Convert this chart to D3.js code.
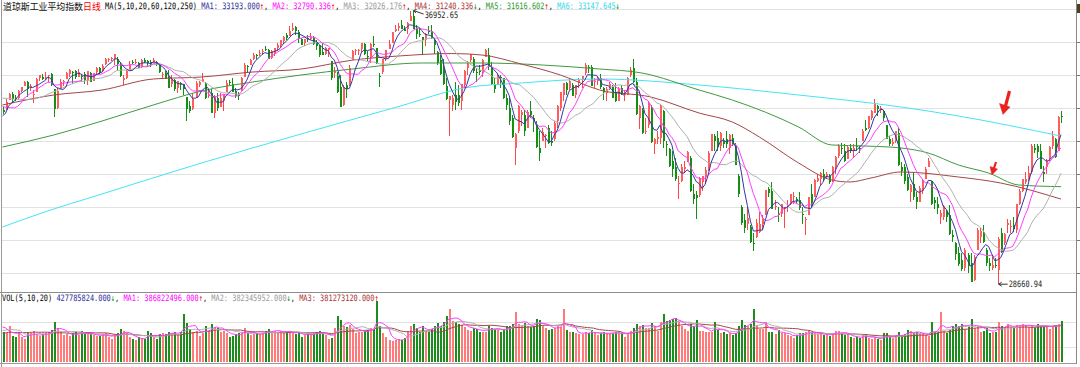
<!DOCTYPE html>
<html lang="zh">
<head>
<meta charset="UTF-8">
<title>道琼斯工业平均指数 日线</title>
<script src="https://d3js.org/d3.v7.min.js"></script>
<style>
    body { margin: 0; background: #fff; }
    svg { display: block; }
</style>
</head>
<body>
<script>
// daily candles 2021-06-23 .. 2022-11-11, [open, high, low, close]
var ohlc = [
[33946,34017,33806,33874],[33950,34282,33950,34196],[34232,34467,34232,34433],[34429,34471,34193,34283],[34293,34390,34227,34292],
[34302,34534,34265,34503],[34507,34640,34480,34633],[34670,34821,34660,34786],[34798,34808,34320,34577],[34595,34725,34520,34681],
[34415,34532,34145,34421],[34500,34906,34490,34870],[34895,35000,34811,34996],[34939,35029,34862,34889],[34933,35091,34853,34933],
[34959,35015,34802,34987],[35037,35060,34668,34687],[34570,34570,33741,33962],[34005,34613,33966,34512],[34564,34866,34564,34798],
[34819,34853,34673,34823],[34870,35097,34870,35062],[35043,35171,34935,35144],[35105,35115,34740,35058],[35111,35148,34870,34931],
[34940,35171,34940,35085],[34971,35023,34792,34935],[35016,35076,34741,34838],[34857,35135,34705,35117],[35073,35104,34779,34793],
[34824,35072,34812,35064],[35080,35236,35030,35209],[35208,35244,35030,35102],[35136,35335,35120,35265],[35320,35528,35300,35485],
[35467,35522,35384,35500],[35513,35540,35436,35516],[35483,35631,35300,35625],[35500,35550,35140,35343],[35310,35400,34950,34961],
[34850,35010,34690,34894],[34900,35150,34880,35120],[35160,35430,35150,35336],[35380,35450,35330,35366],[35390,35470,35320,35406],
[35350,35380,35210,35214],[35230,35490,35200,35456],[35460,35520,35370,35400],[35420,35450,35250,35361],[35400,35460,35250,35313],
[35380,35530,35370,35444],[35400,35420,35270,35369],[35330,35340,35060,35100],[35030,35080,34880,35031],[35050,35120,34870,34879],
[34950,35140,34600,34608],[34720,34990,34630,34870],[34860,34880,34530,34578],[34600,34830,34460,34814],[34760,34800,34550,34751],
[34720,34720,34380,34584],[34320,34340,33610,33970],[34050,34220,33850,33919],[33960,34440,33930,34258],[34300,34830,34300,34765],
[34690,34830,34640,34798],[34800,35060,34800,34870],[34750,34780,34280,34300],[34390,34570,34300,34390],[34460,34590,33840,33844],
[33850,34380,33700,34326],[34300,34460,33900,34002],[34030,34460,34030,34314],[34200,34420,33900,34417],[34500,34850,34500,34755],
[34790,34850,34690,34746],[34740,34900,34490,34496],[34510,34600,34310,34378],[34380,34480,34230,34377],[34530,34950,34530,34912],
[34940,35350,34940,35295],[35260,35300,35050,35259],[35300,35490,35290,35458],[35500,35670,35450,35610],[35610,35650,35480,35603],
[35640,35760,35580,35677],[35700,35790,35620,35741],[35780,35890,35740,35757],[35760,35780,35490,35491],[35520,35760,35500,35731],
[35660,35830,35590,35820],[35830,35960,35740,35913],[35900,36070,35850,36053],[36030,36170,35950,36158],[36200,36270,36050,36124],
[36190,36470,36190,36328],[36370,36570,36330,36432],[36450,36470,36200,36320],[36300,36350,35960,36080],[36080,36110,35910,35921],
[35960,36100,35890,36100],[36130,36220,35990,36087],[36090,36260,36070,36142],[36120,36180,35920,35931],[35980,36050,35760,35871],
[35900,35910,35560,35602],[35700,35960,35600,35619],[35630,35850,35600,35814],[35770,35830,35560,35804],[35420,35430,34850,34899],
[35060,35240,34900,35136],[34980,35080,34440,34484],[34650,35010,34020,34022],[34100,34690,34050,34640],[34700,34800,34300,34580],
[34700,35310,34680,35227],[35450,35760,35450,35719],[35720,35800,35600,35755],[35730,35800,35600,35754],[35800,35980,35680,35971],
[35950,35960,35600,35650],[35580,35720,35410,35545],[35550,35960,35350,35928],[35950,36180,35850,35898],[35820,35830,35320,35365],
[34980,35070,34640,34932],[35080,35500,35040,35493],[35470,35770,35420,35754],[35800,36050,35780,35951],[35980,36310,35980,36302],
[36330,36530,36300,36398],[36410,36570,36340,36489],[36510,36680,36390,36398],[36400,36480,36330,36338],[36400,36610,36250,36585],
[36640,36935,36640,36800],[36780,36952.65,36400,36408],[36380,36510,36100,36236],[36240,36420,36150,36232],[36150,36160,35640,36069],
[36050,36270,35890,36252],[36330,36470,36230,36290],[36320,36510,36100,36114],[36050,36100,35650,35912],[35700,35740,35310,35369],
[35450,35600,35000,35029],[35170,35500,34690,34715],[34680,34900,34250,34265],[34250,34370,33150,34365],[34100,34400,33900,34298],
[34400,34800,33950,34168],[34400,34700,34050,34160],[34200,34740,33950,34725],[34700,35150,34600,35132],[35200,35410,35000,35405],
[35450,35650,35400,35629],[35480,35550,35050,35111],[35100,35200,34800,35089],[35150,35300,35000,35091],[35080,35500,34950,35463],
[35550,35800,35550,35768],[35600,35830,35150,35241],[35200,35400,34700,34738],[34700,34900,34440,34566],[34700,35020,34700,34988],
[34940,35000,34600,34934],[34900,34900,34280,34312],[34300,34430,33950,34079],[34000,34300,33500,33597],[33700,33800,33100,33131],
[32800,33250,32272,33224],[33300,34090,33250,34059],[33800,33950,33450,33893],[33800,33950,33150,33294],[33400,33950,33380,33891],
[33900,34200,33700,33795],[33700,33800,33270,33615],[33500,33600,32800,32818],[32800,33300,32400,32633],[33000,33400,33000,33286],
[33150,33200,32800,33174],[33400,33500,32900,32944],[33000,33300,32850,32945],[33050,33600,33000,33545],[33600,34100,33400,34063],
[34000,34500,33900,34481],[34400,34760,34200,34755],[34750,34800,34400,34553],[34600,34900,34550,34808],[34700,34750,34350,34358],
[34400,34710,34300,34708],[34750,34900,34600,34861],[34850,34970,34600,34956],[35050,35370,35000,35295],[35250,35300,35050,35229],
[35250,35300,34670,34678],[34800,34900,34600,34818],[34820,34950,34700,34921],[34900,35020,34580,34641],[34600,34650,34250,34497],
[34450,34650,34200,34583],[34570,34800,34550,34721],[34650,34700,34300,34308],[34500,34750,34170,34220],[34200,34650,34200,34565],
[34600,34700,34400,34451],[34400,34550,34200,34412],[34400,34950,34400,34911],[35000,35250,34950,35161],[35200,35492,34750,34793],
[34800,34900,33800,33811],[33700,34100,33350,34049],[33950,34000,33200,33240],[33300,33700,33200,33302],[33500,34200,33400,34160],
[34000,34100,32950,32977],[32900,33100,32600,33061],[33050,33300,32900,33128],[33100,34120,32900,34061],[33900,33950,32800,32998],
[32900,33000,32550,32899],[32750,32800,32200,32246],[32400,32700,31900,32161],[32200,32500,31800,31834],[31700,31950,31230,31730],
[31800,32300,31750,32197],[32150,32400,32050,32223],[32400,32700,32350,32655],[32500,32550,31450,31490],[31400,31700,31100,31253],
[31350,31500,30635,31262],[31350,31900,31300,31880],[31750,31950,31500,31928],[31900,32200,31700,32120],[32150,32700,32100,32637],
[32700,33220,32700,33213],[33150,33200,32700,32990],[33100,33300,32700,32813],[32850,33260,32700,33248],[33000,33100,32800,32899],
[33050,33300,32800,32916],[32800,33200,32600,33180],[33100,33200,32850,32910],[32850,32950,32270,32273],[31950,32000,31300,31393],
[31000,31050,30450,30517],[30600,30800,30200,30365],[30500,31000,30300,30668],[30400,30450,29900,29927],[29900,30200,29653,29888],
[30100,30650,30050,30530],[30250,30850,30200,30484],[30500,30750,30300,30677],[30750,31510,30750,31501],[31550,31600,31300,31438],
[31500,31750,30950,30947],[31000,31200,30900,31029],[30800,31000,30550,30775],[30800,31100,30700,31097],[30950,31000,30350,30968],
[31000,31200,30850,31037],[31100,31400,31050,31385],[31300,31450,31100,31339],[31250,31300,31100,31174],[31200,31450,30900,30982],
[30800,31000,30500,30773],[30600,30700,30150,30630],[30750,31300,30750,31289],[31400,31700,31000,31073],[31300,31850,31300,31828],
[31800,32000,31750,31875],[31850,32050,31650,32036],[32000,32150,31800,31900],[31900,32050,31850,31991],[31950,32000,31700,31762],
[31800,32250,31750,32198],[32200,32550,32000,32530],[32550,32900,32500,32845],[32800,32950,32600,32798],[32700,32900,32350,32397],
[32450,32850,32450,32813],[32800,32900,32650,32727],[32700,32900,32500,32803],[32850,33100,32700,32833],[32800,32850,32650,32775],
[33000,33350,33000,33310],[33400,33650,33300,33337],[33400,33770,33350,33761],[33700,33950,33650,33913],[33850,34280,33850,34152],
[34050,34100,33750,33981],[33950,34050,33850,33999],[33900,33950,33600,33707],[33500,33500,33050,33064],[33050,33150,32850,32910],
[32900,33100,32850,32970],[33000,33300,32950,33292],[33250,33400,32250,32283],[32200,32350,31950,32099],[32200,32300,31700,31791],
[31900,32000,31500,31510],[31450,31700,31150,31656],[31700,32050,31200,31318],[31300,31450,30950,31146],[31150,31650,31150,31581],
[31500,31850,31400,31775],[31850,32200,31850,32152],[32200,32500,32200,32381],[31800,31800,31050,31105],[31200,31300,30950,31135],
[31100,31300,30800,30962],[30700,30900,30500,30822],[30700,31050,30600,31020],[30850,30900,30550,30706],[30750,31050,30150,30184],
[30150,30300,29950,30077],[29900,29950,29400,29590],[29600,29800,29200,29261],[29400,29600,29050,29135],[29150,29750,29050,29684],
[29550,29600,29000,29226],[29300,29600,28715,28726],[28800,29550,28750,29491],[29700,30350,29700,30317],[30100,30350,29900,30274],
[30250,30450,29900,29927],[29700,29750,29200,29297],[29300,29450,29050,29203],[29150,29500,29100,29240],[29250,29450,29150,29211],
[29100,30100,28660.94,30039],[30200,30350,29600,29635],[29900,30200,29850,30186],[30450,30650,30200,30524],[30400,30600,30200,30424],
[30450,30700,30250,30334],[30300,31100,30200,31083],[31100,31550,31050,31500],[31500,31850,31450,31837],[31750,32050,31700,31839],
[31850,32250,31800,32034],[32050,32900,32000,32862],[32800,32900,32650,32733],[32850,32900,32500,32653],[32700,32900,32150,32148],
[32050,32250,31750,32001],[32200,32450,32000,32403],[32450,32850,32400,32827],[32850,33300,32750,33160],[33050,33100,32500,32514],
[32700,33750,32700,33716],[33750,33900,33550,33748]
];

// volume, millions of shares
var volume = [
310,300,380,270,260,300,260,240,300,300, 330,280,270,290,300,320,340,420,360,320,
280,290,270,300,310,280,330,290,300,290, 280,270,270,290,300,260,240,280,300,350,
330,300,260,240,230,260,250,240,330,300, 260,240,290,300,290,320,300,310,290,320,
500,410,350,320,330,270,300,380,330,400, 370,360,320,330,300,260,270,290,300,320,
360,300,280,290,300,290,300,330,350,310, 330,320,330,300,310,330,300,290,320,260,
280,300,290,300,310,330,300,280,240,250, 360,480,440,380,370,390,350,300,310,320,
330,340,360,350,640,380,300,260,230,220, 230,240,230,250,330,380,400,360,310,380,
330,320,350,380,410,380,420,480,560,430, 420,400,390,370,340,330,360,350,310,320,
320,380,360,350,340,310,340,380,380,400, 520,400,380,410,380,370,380,450,440,380,
360,340,350,360,380,370,560,340,310,320, 300,290,290,320,300,340,300,280,300,310,
300,290,300,320,310,300,260,300,330,360, 400,380,390,360,360,410,380,330,420,500,
430,440,450,460,430,380,350,330,400,380, 440,330,330,310,320,320,420,340,300,320,
290,300,280,300,380,440,390,380,400,560, 390,350,350,420,320,320,290,340,300,300,
280,270,250,280,300,300,310,330,300,300, 290,300,280,290,270,300,330,330,300,280,
290,260,250,260,250,280,290,250,240,260, 240,230,300,300,260,250,270,320,280,290,
340,330,300,310,290,290,280,270,420,320, 320,520,330,300,340,380,400,380,400,350,
370,450,360,370,320,330,360,300,320,310, 420,380,370,395,365,360,388,392,402,380,
365,385,360,395,380,372,382,350,372,384, 400,427.785824
];

// closes / volumes of the 19 sessions before the first candle (feed the short MAs)
var priorClose = [34323,34464,34529,34575,34600,34577,34756,34630,34600,34447,34466,34480,34394,34299,34033,33823,33290,33876,33945];
var priorVolume = [280,270,250,300,290,280,270,260,290,280,270,290,280,300,330,350,520,360,300];

// long averages, [candle index, value]
var ma60Pts = [[0,34091],[17,34394],[33,34545],[50,34879],[66,34939],[83,35091],[99,35180],[116,35450],[132,35580],
    [149,35650],[159,35606],[172,35333],[185,35000],[198,34545],[215,34333],[231,33848],[242,33576],[251,33121],
    [264,32333],[275,31818],[281,31758],[288,31879],[298,32061],[317,31909],[331,31727],[351,31240]];
var ma120Pts = [[0,32818],[17,33182],[33,33606],[50,34091],[66,34515],[83,34788],[99,35000],[116,35182],[139,35364],
    [159,35364],[179,35303],[198,35182],[212,35061],[231,34545],[242,34242],[264,33424],[275,32879],[286,32848],
    [298,32788],[307,32636],[317,32273],[327,32030],[337,31667],[351,31616]];
var ma250Pts = [[0,30394],[13,30818],[33,31394],[66,32333],[99,33212],[132,34061],[153,34606],[172,34758],
    [198,34879],[231,34697],[264,34394],[298,34030],[317,33758],[351,33148]];

var priceTicks = [29000, 30000, 31000, 32000, 33000, 34000, 35000, 36000, 37000];
var volTicks = [322.5, 347.5];

var RED = "#ff4646", GREEN = "#138f13";

var titleSegs = [["道琼斯工业平均指数", "#111"], ["日线", "#f00"]];
var topLegend = [
    ["MA(5,10,20,60,120,250) ", "#000"],
    ["MA1: 33193.000", "#2b2b9c"], ["\u2191", "#f00"], [", ", "#000"],
    ["MA2: 32790.336", "#f0f"], ["\u2191", "#f00"], [", ", "#000"],
    ["MA3: 32026.176", "#999"], ["\u2191", "#f00"], [", ", "#000"],
    ["MA4: 31240.336", "#a33"], ["\u2193", "#080"], [", ", "#000"],
    ["MA5: 31616.602", "#2a9a2a"], ["\u2191", "#f00"], [", ", "#000"],
    ["MA6: 33147.645", "#2ed8ec"], ["\u2193", "#080"]
];
var volLegend = [
    ["VOL(5,10,20) ", "#000"],
    ["427785824.000", "#2b2b9c"], ["\u2193", "#080"], [", ", "#000"],
    ["MA1: 386822496.000", "#f0f"], ["\u2191", "#f00"], [", ", "#000"],
    ["MA2: 382345952.000", "#999"], ["\u2193", "#080"], [", ", "#000"],
    ["MA3: 381273120.000", "#a33"], ["\u2191", "#f00"]
];

var width = 1080;
var height = 367;
var axisX = 1076.5;

var svg = d3.select("body").append("svg")
    .attr("width", width)
    .attr("height", height);

var x = d3.scaleLinear().domain([0, ohlc.length - 1]).range([2.5, 1061]);
var y = d3.scaleLinear().domain([29000, 36000]).range([273, 42]);
var yv = d3.scaleLinear().domain([0, 640]).range([362, 301]);

// frame and grid
var grid = svg.append("g").attr("shape-rendering", "crispEdges");
grid.selectAll(".pg").data(priceTicks).enter().append("line")
    .attr("x1", 2).attr("x2", axisX)
    .attr("y1", function (d) { return Math.round(y(d)) + 0.5; })
    .attr("y2", function (d) { return Math.round(y(d)) + 0.5; })
    .attr("stroke", "#e2e2e2");
grid.selectAll(".vg").data(volTicks).enter().append("line")
    .attr("x1", 2).attr("x2", axisX)
    .attr("y1", function (d) { return d; })
    .attr("y2", function (d) { return d; })
    .attr("stroke", "#e2e2e2");
grid.append("line").attr("x1", 0).attr("x2", axisX).attr("y1", 292.5).attr("y2", 292.5).attr("stroke", "#8c8c8c");
grid.append("line").attr("x1", 0).attr("x2", axisX).attr("y1", 363.5).attr("y2", 363.5).attr("stroke", "#9a9a9a");
grid.append("line").attr("x1", 1.5).attr("x2", 1.5).attr("y1", 0).attr("y2", height).attr("stroke", "#999");
grid.append("line").attr("x1", axisX).attr("x2", axisX).attr("y1", 0).attr("y2", 364).attr("stroke", "#888");
// right axis ticks (the labels lie beyond the window)
grid.selectAll(".tk").data(priceTicks).enter().append("line")
    .attr("x1", axisX).attr("x2", 1080)
    .attr("y1", function (d) { return Math.round(y(d)) + 0.5; })
    .attr("y2", function (d) { return Math.round(y(d)) + 0.5; })
    .attr("stroke", "#777");
svg.append("rect").attr("x", 1077).attr("y", 4).attr("width", 4).attr("height", 9).attr("fill", "#4d4020");

function isUp(d) { return d[3] >= d[0]; }

// volume bars
svg.append("g").attr("shape-rendering", "crispEdges")
    .selectAll("rect").data(volume).enter().append("rect")
    .attr("x", function (d, i) { return Math.round(x(i)) - 0.5; })
    .attr("width", 2)
    .attr("y", function (d) { return yv(d); })
    .attr("height", function (d) { return yv(0) - yv(d); })
    .attr("fill", function (d, i) { return isUp(ohlc[i]) ? "#ff7a7a" : "#1c8c1c"; });

// candles
var candles = svg.append("g").attr("shape-rendering", "crispEdges")
    .selectAll("g").data(ohlc).enter().append("g");
candles.append("line")
    .attr("x1", function (d, i) { return Math.round(x(i)) + 0.5; })
    .attr("x2", function (d, i) { return Math.round(x(i)) + 0.5; })
    .attr("y1", function (d) { return y(d[1]); })
    .attr("y2", function (d) { return y(d[2]); })
    .attr("stroke", function (d) { return isUp(d) ? RED : GREEN; });
candles.append("rect")
    .attr("x", function (d, i) { return Math.round(x(i)) - 0.5; })
    .attr("width", 2)
    .attr("y", function (d) { return y(Math.max(d[0], d[3])); })
    .attr("height", function (d) { return Math.max(1, Math.abs(y(d[0]) - y(d[3]))); })
    .attr("fill", function (d) { return isUp(d) ? "#ff5e5e" : GREEN; });

// moving averages
function movingAvg(values, prior, n) {
    var all = prior.concat(values);
    return values.map(function (v, i) {
        var j = i + prior.length;
        if (j < n - 1) return null;
        return d3.mean(all.slice(j - n + 1, j + 1));
    });
}

var closes = ohlc.map(function (d) { return d[3]; });

var line = d3.line()
    .defined(function (d) { return d != null; })
    .x(function (d, i) { return x(i); })
    .y(function (d) { return y(d); });
var ptLine = d3.line()
    .curve(d3.curveMonotoneX)
    .x(function (d) { return x(d[0]); })
    .y(function (d) { return y(d[1]); });
var volLine = d3.line()
    .defined(function (d) { return d != null; })
    .x(function (d, i) { return x(i); })
    .y(function (d) { return yv(d); });

var lines = svg.append("g").attr("fill", "none").attr("stroke-width", 1);
lines.append("path").attr("d", ptLine(ma250Pts)).attr("stroke", "#44e4f4");
lines.append("path").attr("d", ptLine(ma120Pts)).attr("stroke", "#3f9a3f");
lines.append("path").attr("d", ptLine(ma60Pts)).attr("stroke", "#a54646");
lines.append("path").attr("d", line(movingAvg(closes, priorClose, 20))).attr("stroke", "#b0b0b0");
lines.append("path").attr("d", line(movingAvg(closes, priorClose, 10))).attr("stroke", "#ff3cff");
lines.append("path").attr("d", line(movingAvg(closes, priorClose, 5))).attr("stroke", "#3535a5");

lines.append("path").attr("d", volLine(movingAvg(volume, priorVolume, 20))).attr("stroke", "#a54646");
lines.append("path").attr("d", volLine(movingAvg(volume, priorVolume, 10))).attr("stroke", "#b0b0b0");
lines.append("path").attr("d", volLine(movingAvg(volume, priorVolume, 5))).attr("stroke", "#ff3cff");

// text laid out naturally, then squeezed horizontally to the reference pitch
var cw = 4.19;
var monoSize = 8.8;
function squeezedText(x0, baseline, sx, family, size) {
    return svg.append("g")
        .attr("transform", "translate(" + x0 + "," + baseline + ") scale(" + sx + ",1)")
        .append("text")
        .attr("x", 0).attr("y", 0)
        .attr("font-family", family)
        .attr("font-size", size + "px")
        .style("white-space", "pre");
}
function monoText(x0, baseline) {
    return squeezedText(x0, baseline, cw / (0.602 * monoSize), "'DejaVu Sans Mono', monospace", monoSize);
}
function addSpans(t, segs) {
    segs.forEach(function (s) {
        t.append("tspan").attr("fill", s[1]).text(s[0]);
    });
}

// title: 11 CJK glyphs over x = 3 .. 101
addSpans(squeezedText(3, 10, 98 / (11 * 9.5), "'Noto Sans CJK SC', sans-serif", 9.5), titleSegs);
addSpans(monoText(105, 8.5), topLegend);
addSpans(monoText(2, 301), volLegend);

// high / low markers
var hiIdx = d3.maxIndex(ohlc, function (d) { return d[1]; });
var loIdx = d3.minIndex(ohlc, function (d) { return d[2]; });
var marks = svg.append("g").attr("stroke", "#333").attr("fill", "none");
var hx = x(hiIdx) + 1, hy = y(ohlc[hiIdx][1]);
marks.append("path").attr("d", "M" + hx + "," + hy + "L" + (hx + 10) + "," + (hy + 3.5));
marks.append("path").attr("d", "M" + (hx + 3) + "," + (hy - 1.2) + "L" + hx + "," + hy + "L" + (hx + 2.2) + "," + (hy + 2.4));
monoText(hx + 11, hy + 7).attr("fill", "#222").text(d3.format(".2f")(ohlc[hiIdx][1]));
var lx = x(loIdx) + 1, ly = y(ohlc[loIdx][2]);
marks.append("path").attr("d", "M" + lx + "," + ly + "L" + (lx + 9) + "," + ly);
marks.append("path").attr("d", "M" + (lx + 3) + "," + (ly - 2) + "L" + lx + "," + ly + "L" + (lx + 3) + "," + (ly + 2));
monoText(lx + 10, ly + 3).attr("fill", "#222").text(d3.format(".2f")(ohlc[loIdx][2]));

// red hand-drawn arrows
var ann = svg.append("g").attr("fill", "#e8231e").attr("stroke", "#e8231e");
ann.append("path").attr("d", "M1009.5,91 L1005.5,106").attr("stroke-width", 3.2);
ann.append("path").attr("d", "M999.5,103.5 L1010,107 L1003,114.5 Z").attr("stroke-width", 0.5);
ann.append("path").attr("d", "M996,162 L994,168").attr("stroke-width", 2.2);
ann.append("path").attr("d", "M990,166.5 L997.5,169 L992,175 Z").attr("stroke-width", 0.5);
</script>
</body>
</html>
